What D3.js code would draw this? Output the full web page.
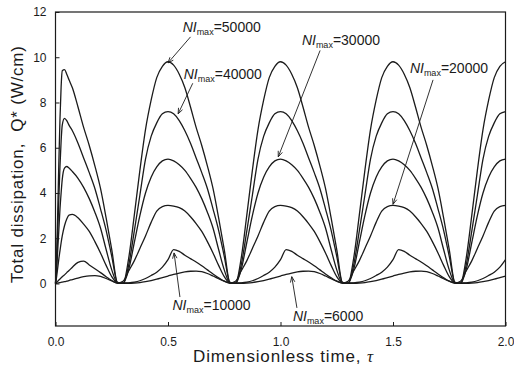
<!DOCTYPE html>
<html>
<head>
<meta charset="utf-8">
<script src="https://cdn.jsdelivr.net/npm/d3@7"></script>
<style>
  html, body { margin: 0; padding: 0; background: #fff; }
  svg { display: block; font-family: "Liberation Sans", Arial, Helvetica, sans-serif; }
</style>
</head>
<body>
<svg id="chart" width="514" height="374"></svg>
<script>
// Dimensionless time grid (fine near the start-up transient)
const tau = [
  0, 0.005, 0.01, 0.015, 0.02, 0.025, 0.03, 0.04, 0.05, 0.06,
  0.075, 0.1, 0.125, 0.15, 0.175, 0.2, 0.225, 0.25, 0.275,
  0.3, 0.325, 0.35, 0.375, 0.4, 0.425, 0.45, 0.475,
  0.5, 0.525, 0.55, 0.575, 0.6, 0.625, 0.65, 0.675, 0.7, 0.725, 0.75, 0.775,
  0.8, 0.825, 0.85, 0.875, 0.9, 0.925, 0.95, 0.975,
  1.0, 1.025, 1.05, 1.075, 1.1, 1.125, 1.15, 1.175, 1.2, 1.225, 1.25, 1.275,
  1.3, 1.325, 1.35, 1.375, 1.4, 1.425, 1.45, 1.475,
  1.5, 1.525, 1.55, 1.575, 1.6, 1.625, 1.65, 1.675, 1.7, 1.725, 1.75, 1.775,
  1.8, 1.825, 1.85, 1.875, 1.9, 1.925, 1.95, 1.975,
  2.0
];

// Total dissipation Q* (W/cm) for each peak ampere-turn level
const q50000 = [
  0, 1.2, 3.2, 5.4, 7.3, 8.7, 9.4, 9.45, 9.25, 9.0,
  8.65, 7.8, 6.9, 6.1, 5.2, 4.2, 2.9, 1.5, 0.05,
  0.0, 1.1, 3.0, 5.0, 6.8, 8.1, 9.1, 9.6,
  9.8, 9.65, 9.25, 8.65, 7.8, 6.9, 6.1, 5.2, 4.2, 2.9, 1.5, 0.05,
  0.0, 1.1, 3.0, 5.0, 6.8, 8.1, 9.1, 9.6,
  9.8, 9.65, 9.25, 8.65, 7.8, 6.9, 6.1, 5.2, 4.2, 2.9, 1.5, 0.05,
  0.0, 1.1, 3.0, 5.0, 6.8, 8.1, 9.1, 9.6,
  9.8, 9.65, 9.25, 8.65, 7.8, 6.9, 6.1, 5.2, 4.2, 2.9, 1.5, 0.05,
  0.0, 1.1, 3.0, 5.0, 6.8, 8.1, 9.1, 9.6,
  9.8
];
const q40000 = [
  0, 0.9, 2.3, 3.8, 5.2, 6.3, 7.0, 7.3, 7.2, 7.0,
  6.75, 6.2, 5.55, 4.9, 4.2, 3.3, 2.35, 1.2, 0.05,
  0.0, 0.8, 2.3, 3.9, 5.5, 6.5, 7.1, 7.5,
  7.6, 7.5, 7.2, 6.75, 6.2, 5.55, 4.9, 4.2, 3.3, 2.35, 1.2, 0.05,
  0.0, 0.8, 2.3, 3.9, 5.5, 6.5, 7.1, 7.5,
  7.6, 7.5, 7.2, 6.75, 6.2, 5.55, 4.9, 4.2, 3.3, 2.35, 1.2, 0.05,
  0.0, 0.8, 2.3, 3.9, 5.5, 6.5, 7.1, 7.5,
  7.6, 7.5, 7.2, 6.75, 6.2, 5.55, 4.9, 4.2, 3.3, 2.35, 1.2, 0.05,
  0.0, 0.8, 2.3, 3.9, 5.5, 6.5, 7.1, 7.5,
  7.6
];
const q30000 = [
  0, 0.6, 1.5, 2.4, 3.3, 4.0, 4.6, 5.1, 5.17, 5.1,
  4.95, 4.65, 4.25, 3.75, 3.15, 2.45, 1.5, 0.6, 0.03,
  0.0, 0.6, 1.8, 3.0, 4.0, 4.7, 5.15, 5.42,
  5.5, 5.42, 5.25, 5.0, 4.65, 4.25, 3.75, 3.15, 2.45, 1.5, 0.6, 0.03,
  0.0, 0.6, 1.8, 3.0, 4.0, 4.7, 5.15, 5.42,
  5.5, 5.42, 5.25, 5.0, 4.65, 4.25, 3.75, 3.15, 2.45, 1.5, 0.6, 0.03,
  0.0, 0.6, 1.8, 3.0, 4.0, 4.7, 5.15, 5.42,
  5.5, 5.42, 5.25, 5.0, 4.65, 4.25, 3.75, 3.15, 2.45, 1.5, 0.6, 0.03,
  0.0, 0.6, 1.8, 3.0, 4.0, 4.7, 5.15, 5.42,
  5.5
];
const q20000 = [
  0, 0.3, 0.7, 1.1, 1.45, 1.8, 2.1, 2.55, 2.85, 3.02,
  3.05, 2.9, 2.62, 2.3, 1.85, 1.35, 0.8, 0.3, 0.03,
  0.1, 0.55, 1.0, 1.55, 2.1, 2.7, 3.2, 3.4,
  3.45, 3.42, 3.35, 3.2, 2.95, 2.65, 2.3, 1.85, 1.35, 0.8, 0.3, 0.03,
  0.1, 0.55, 1.0, 1.55, 2.1, 2.7, 3.2, 3.4,
  3.45, 3.42, 3.35, 3.2, 2.95, 2.65, 2.3, 1.85, 1.35, 0.8, 0.3, 0.03,
  0.1, 0.55, 1.0, 1.55, 2.1, 2.7, 3.2, 3.4,
  3.45, 3.42, 3.35, 3.2, 2.95, 2.65, 2.3, 1.85, 1.35, 0.8, 0.3, 0.03,
  0.1, 0.55, 1.0, 1.55, 2.1, 2.7, 3.2, 3.4,
  3.45
];
const q10000 = [
  0, 0.05, 0.1, 0.15, 0.2, 0.25, 0.3, 0.38, 0.48, 0.57,
  0.72, 0.93, 0.99, 0.82, 0.65, 0.48, 0.3, 0.13, 0.02,
  0.02, 0.03, 0.06, 0.12, 0.22, 0.35, 0.5, 0.72,
  1.05, 1.5, 1.42, 1.25, 1.1, 0.95, 0.78, 0.6, 0.42, 0.25, 0.1, 0.02,
  0.02, 0.03, 0.06, 0.12, 0.22, 0.35, 0.5, 0.72,
  1.05, 1.5, 1.42, 1.25, 1.1, 0.95, 0.78, 0.6, 0.42, 0.25, 0.1, 0.02,
  0.02, 0.03, 0.06, 0.12, 0.22, 0.35, 0.5, 0.72,
  1.05, 1.5, 1.42, 1.25, 1.1, 0.95, 0.78, 0.6, 0.42, 0.25, 0.1, 0.02,
  0.02, 0.03, 0.06, 0.12, 0.22, 0.35, 0.5, 0.72,
  1.05
];
const q6000 = [
  0, 0.01, 0.02, 0.03, 0.04, 0.05, 0.06, 0.08, 0.1, 0.13,
  0.17, 0.24, 0.3, 0.34, 0.35, 0.31, 0.22, 0.11, 0.02,
  0.01, 0.01, 0.02, 0.04, 0.08, 0.13, 0.19, 0.26,
  0.33, 0.4, 0.46, 0.51, 0.54, 0.55, 0.52, 0.44, 0.33, 0.21, 0.1, 0.02,
  0.01, 0.01, 0.02, 0.04, 0.08, 0.13, 0.19, 0.26,
  0.33, 0.4, 0.46, 0.51, 0.54, 0.55, 0.52, 0.44, 0.33, 0.21, 0.1, 0.02,
  0.01, 0.01, 0.02, 0.04, 0.08, 0.13, 0.19, 0.26,
  0.33, 0.4, 0.46, 0.51, 0.54, 0.55, 0.52, 0.44, 0.33, 0.21, 0.1, 0.02,
  0.01, 0.01, 0.02, 0.04, 0.08, 0.13, 0.19, 0.26,
  0.33
];

const seriesValues = [q6000, q10000, q20000, q30000, q40000, q50000];

// Axis ticks
const xTicks = [0, 0.5, 1.0, 1.5, 2.0];
const yTicks = [0, 2, 4, 6, 8, 10, 12];

// Curve labels: NI_max value, arrow tip / tail and label anchor in data units
const labelLevels = ["50000", "40000", "30000", "20000", "10000", "6000"];
const labelTipTau   = [0.50, 0.545, 0.99, 1.50, 0.527, 1.05];
const labelTipQ     = [9.75, 7.5, 5.6, 3.5, 1.35, 0.3];
const labelTailTau  = [0.60, 0.61, 1.176, 1.678, 0.553, 1.073];
const labelTailQ    = [10.9, 8.85, 10.3, 9.0, -0.6, -1.08];
const labelTextTau  = [0.565, 0.57, 1.095, 1.575, 0.52, 1.055];
const labelTextQ    = [11.1, 9.05, 10.55, 9.3, -1.17, -1.66];

const svg = d3.select("#chart");
const plotLeft = 55.5, plotRight = 505.5, plotTop = 12, plotBottom = 326;

const x = d3.scaleLinear().domain([0, 2]).range([plotLeft, plotRight]);
const y = d3.scaleLinear().domain([-1.88, 12]).range([plotBottom, plotTop]);

const ink = "#1b1b1b";

// Curves
const line = d3.line()
  .x(d => x(d[0]))
  .y(d => y(d[1]))
  .curve(d3.curveMonotoneX);

svg.append("g")
  .selectAll("path")
  .data(seriesValues)
  .join("path")
  .attr("d", vals => line(tau.map((t, i) => [t, vals[i]])))
  .attr("fill", "none")
  .attr("stroke", ink)
  .attr("stroke-width", 1.3)
  .attr("stroke-linejoin", "round");

// Axes with inward ticks
const yAxis = d3.axisLeft(y).tickValues(yTicks).tickSize(-4).tickPadding(9).tickFormat(d3.format("d"));
const xAxis = d3.axisBottom(x).tickValues(xTicks).tickSize(-4).tickPadding(11).tickFormat(d3.format(".1f"));

const gy = svg.append("g").attr("transform", `translate(${plotLeft},0)`).call(yAxis);
const gx = svg.append("g").attr("transform", `translate(0,${plotBottom})`).call(xAxis);
[gx, gy].forEach(g => {
  g.select(".domain").remove();
  g.selectAll(".tick line").attr("stroke", ink).attr("stroke-width", 1);
  g.selectAll(".tick text")
    .attr("fill", ink)
    .style("font-size", "12px")
    .style("font-family", "'Liberation Sans', Arial, sans-serif");
});

// Frame
svg.append("rect")
  .attr("x", plotLeft).attr("y", plotTop)
  .attr("width", plotRight - plotLeft).attr("height", plotBottom - plotTop)
  .attr("fill", "none").attr("stroke", ink).attr("stroke-width", 1.2);

// Axis titles
svg.append("text")
  .attr("x", 193)
  .attr("y", 362)
  .attr("font-size", 17)
  .attr("textLength", 180)
  .attr("lengthAdjust", "spacing")
  .attr("fill", ink)
  .call(t => {
    t.append("tspan").text("Dimensionless time, ");
    t.append("tspan").attr("font-style", "italic").attr("font-family", "'Liberation Serif', 'Times New Roman', serif").text("τ");
  });

svg.append("text")
  .attr("transform", `translate(23,283) rotate(-90)`)
  .attr("font-size", 17)
  .attr("textLength", 237)
  .attr("lengthAdjust", "spacing")
  .attr("fill", ink)
  .style("white-space", "pre")
  .text("Total dissipation,  Q* (W/cm)");

// Annotations with arrows
const ann = svg.append("g");
labelLevels.forEach((lvl, i) => {
  const tx = x(labelTipTau[i]), ty = y(labelTipQ[i]);
  const sx = x(labelTailTau[i]), sy = y(labelTailQ[i]);
  ann.append("line")
    .attr("x1", sx).attr("y1", sy).attr("x2", tx).attr("y2", ty)
    .attr("stroke", ink).attr("stroke-width", 0.9);
  const ang = Math.atan2(ty - sy, tx - sx);
  const len = 6, spread = 0.38;
  const p1 = [tx - len * Math.cos(ang - spread), ty - len * Math.sin(ang - spread)];
  const p2 = [tx - len * Math.cos(ang + spread), ty - len * Math.sin(ang + spread)];
  ann.append("path")
    .attr("d", `M${p1[0]},${p1[1]}L${tx},${ty}L${p2[0]},${p2[1]}`)
    .attr("fill", "none").attr("stroke", ink).attr("stroke-width", 0.9);

  const t = ann.append("text")
    .attr("x", x(labelTextTau[i]))
    .attr("y", y(labelTextQ[i]))
    .attr("font-size", 14)
    .attr("fill", ink);
  t.append("tspan").attr("font-style", "italic").text("NI");
  t.append("tspan").attr("font-size", 9).attr("dy", 3).text("max");
  t.append("tspan").attr("dy", -3).text("=" + lvl);
});
</script>
</body>
</html>
